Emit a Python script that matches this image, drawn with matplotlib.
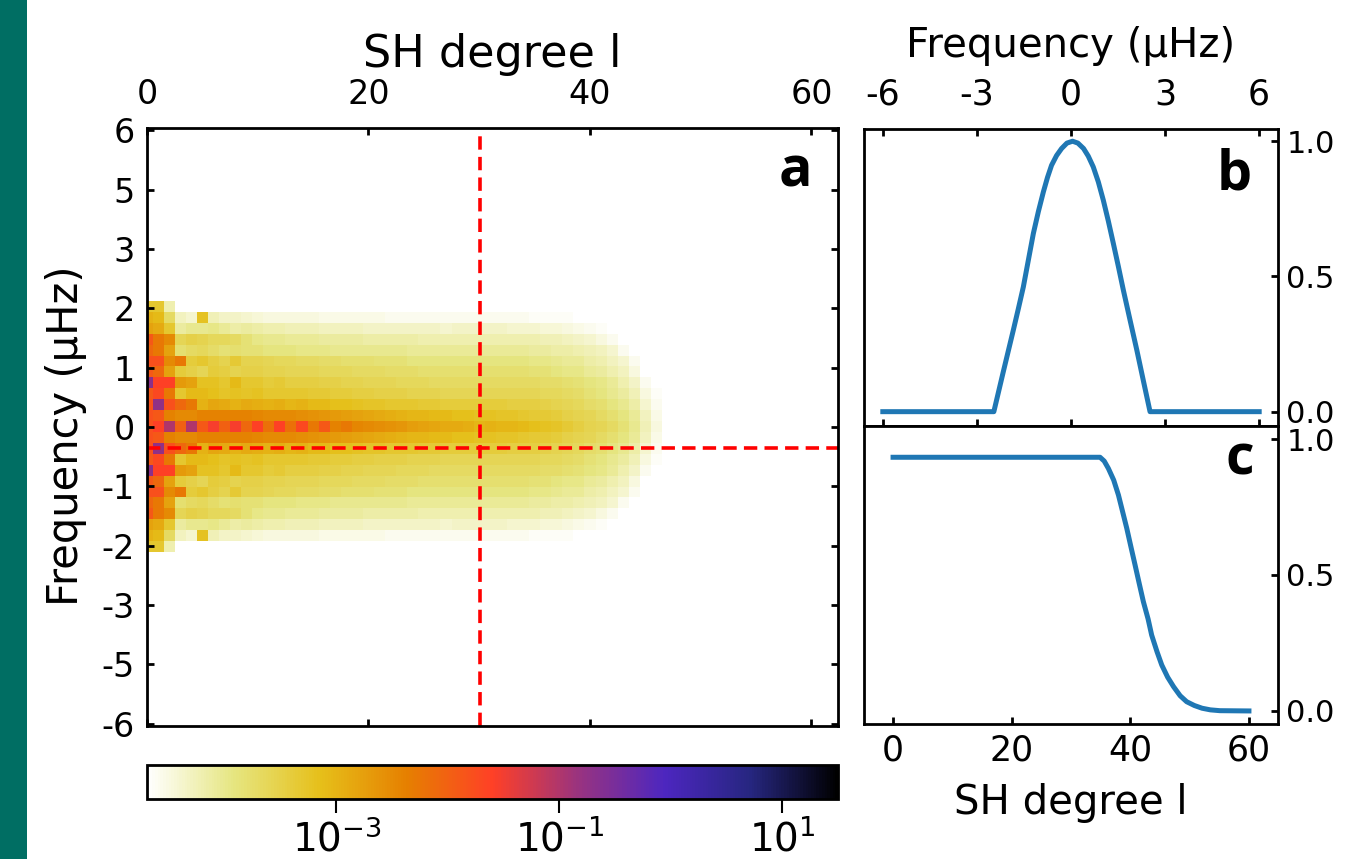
#!/usr/bin/python
# coding: utf8

import numpy as np
import matplotlib
matplotlib.use("Agg")
import matplotlib.pyplot as plt
from matplotlib.colors import LogNorm
from matplotlib.patches import Rectangle

N = np.nan

# log10 power, one list per frequency bin, SH degree 0..46
# the map is mirrored around 0 uHz so only the upper half is listed
row_k0 = [-1.8, -1.6, -1.0, -2.0, -1.0, -1.9, -1.55, -2.0, -1.55, -2.1,
          -1.6, -2.2, -1.6, -2.2, -1.7, -2.3, -1.9, -2.4, -2.3, -2.45,
          -2.5, -2.55, -2.6, -2.65, -2.75, -2.8, -2.85, -2.9, -2.9, -2.95,
          -3.05, -3.0, -3.05, -3.05, -3.1, -3.15, -3.2, -3.25, -3.35, -3.45,
          -3.55, -3.6, -3.7, -3.85, -4.0, -4.25, -4.5]
row_k1 = [-1.8, -1.9, -2.4, -2.5, -2.5, -2.4, -2.4, -2.4, -2.4, -2.4,
          -2.45, -2.5, -2.5, -2.5, -2.55, -2.6, -2.65, -2.7, -2.75, -2.8,
          -2.85, -2.9, -2.95, -3.0, -3.05, -3.05, -3.1, -3.1, -3.15, -3.15,
          -3.2, -3.2, -3.25, -3.25, -3.3, -3.35, -3.35, -3.4, -3.5, -3.55,
          -3.6, -3.7, -3.8, -3.9, -4.05, -4.3, -4.55]
row_k2 = [-1.8, -0.75, -1.8, -2.1, -2.3, -3.0, -2.85, -2.9, -3.0, -2.9,
          -2.95, -3.0, -2.95, -3.05, -3.0, -3.1, -3.1, -3.15, -3.15, -3.2,
          -3.25, -3.25, -3.3, -3.3, -3.3, -3.35, -3.35, -3.4, -3.4, -3.4,
          -3.4, -3.4, -3.4, -3.45, -3.45, -3.45, -3.5, -3.55, -3.6, -3.65,
          -3.75, -3.8, -3.9, -4.0, -4.15, -4.4, -4.6]
row_k3 = [-1.9, -1.7, -2.3, -3.3, -3.1, -3.1, -3.15, -3.25, -3.2, -3.25,
          -3.2, -3.3, -3.3, -3.3, -3.3, -3.35, -3.35, -3.4, -3.4, -3.45,
          -3.45, -3.5, -3.5, -3.5, -3.55, -3.55, -3.55, -3.6, -3.6, -3.6,
          -3.6, -3.6, -3.6, -3.6, -3.6, -3.6, -3.65, -3.65, -3.7, -3.75,
          -3.85, -3.9, -4.0, -4.1, -4.25, -4.5, -4.65]
row_k4 = [-0.7, -1.6, -1.6, -2.7, -2.8, -3.2, -3.2, -3.3, -3.1, -3.3,
          -3.3, -3.4, -3.35, -3.45, -3.45, -3.45, -3.5, -3.5, -3.55, -3.55,
          -3.6, -3.6, -3.6, -3.65, -3.65, -3.65, -3.7, -3.7, -3.7, -3.7,
          -3.7, -3.7, -3.7, -3.7, -3.7, -3.7, -3.75, -3.75, -3.8, -3.85,
          -3.9, -3.95, -4.05, -4.2, -4.35, -4.6, N]
row_k5 = [-1.9, -2.1, -2.8, -3.4, -3.5, -3.6, -3.4, -3.45, -3.55, -3.5,
          -3.5, -3.55, -3.55, -3.6, -3.6, -3.6, -3.65, -3.65, -3.65, -3.7,
          -3.7, -3.7, -3.75, -3.75, -3.75, -3.8, -3.8, -3.8, -3.8, -3.8,
          -3.8, -3.8, -3.8, -3.8, -3.8, -3.85, -3.85, -3.9, -3.95, -3.95,
          -4.05, -4.1, -4.2, -4.3, -4.5, N, N]
row_k6 = [-1.8, -1.8, -2.5, -2.3, -3.4, -3.3, -3.45, -3.55, -3.35, -3.55,
          -3.55, -3.6, -3.65, -3.65, -3.7, -3.7, -3.75, -3.75, -3.8, -3.8,
          -3.8, -3.85, -3.85, -3.85, -3.9, -3.9, -3.9, -3.9, -3.9, -3.9,
          -3.9, -3.9, -3.9, -3.9, -3.9, -3.95, -3.95, -4.0, -4.05, -4.05,
          -4.15, -4.2, -4.3, -4.4, -4.6, N, N]
row_k7 = [-2.1, -2.3, -2.8, -3.8, -3.7, -3.65, -3.75, -3.85, -3.8, -3.85,
          -3.85, -3.9, -3.9, -3.9, -3.95, -3.95, -3.95, -4.0, -4.0, -4.0,
          -4.0, -4.0, -4.0, -4.0, -4.05, -4.05, -4.05, -4.05, -4.05, -4.05,
          -4.05, -4.05, -4.05, -4.05, -4.05, -4.1, -4.1, -4.15, -4.15, -4.2,
          -4.25, -4.3, -4.4, -4.6, N, N, N]
row_k8 = [-1.9, -2.3, -2.5, -3.6, -3.5, -3.55, -3.65, -3.65, -3.7, -3.85,
          -3.95, -4.0, -4.0, -4.05, -4.05, -4.05, -4.1, -4.1, -4.1, -4.1,
          -4.15, -4.15, -4.15, -4.15, -4.15, -4.2, -4.2, -4.2, -4.2, -4.2,
          -4.2, -4.2, -4.2, -4.2, -4.2, -4.2, -4.25, -4.25, -4.3, -4.35,
          -4.4, -4.5, -4.6, N, N, N, N]
row_k9 = [-2.8, -2.9, -3.3, -4.1, -4.0, -4.0, -3.95, -4.05, -4.15, -4.1,
          -4.15, -4.2, -4.2, -4.25, -4.25, -4.25, -4.3, -4.3, -4.3, -4.3,
          -4.35, -4.35, -4.35, -4.35, -4.35, -4.35, -4.35, -4.4, -4.35, -4.35,
          -4.35, -4.35, -4.35, -4.4, -4.4, -4.4, -4.45, -4.45, -4.5, -4.55,
          -4.6, -4.65, N, N, N, N, N]
row_k10 = [-3.0, -3.1, -3.7, -4.3, -4.4, -3.2, -4.25, -4.35, -4.35, -4.4,
           -4.45, -4.5, -4.5, -4.5, -4.5, -4.5, -4.55, -4.55, -4.55, -4.55,
           -4.55, -4.55, -4.6, -4.6, -4.6, -4.6, -4.6, -4.6, -4.6, -4.6,
           -4.6, -4.6, -4.6, -4.6, -4.6, -4.65, -4.65, -4.65, -4.65, -4.68,
           N, N, N, N, N, N, N]
row_k11 = [-3.3, -3.3, -4.2] + [N] * 44

freq_step = 0.2134  # uHz per bin
cut_degree = 30.1
cut_freq = -0.42

a_xticks = [0, 20, 40, 60]
a_yticks = [-5.815, -4.652, -3.489, -2.326, -1.163, 0, 1.163, 2.326, 3.489, 4.652, 5.815]
a_ylabels = ["-6", "-5", "-3", "-2", "-1", "0", "1", "2", "3", "5", "6"]
cbar_ticks = [1e-3, 1e-1, 1e1]

# panel b: frequency window
b_freq = [-6, -2.46, -2.16, -1.84, -1.68, -1.52, -1.36, -1.20, -1.04, -0.88,
          -0.75, -0.62, -0.46, -0.30, -0.13, 0.05, 0.22, 0.40, 0.55, 0.71,
          0.87, 1.03, 1.19, 1.35, 1.51, 1.67, 1.88, 2.10, 2.31, 2.52, 6]
b_val = [0, 0, 0.147, 0.301, 0.380, 0.461, 0.560, 0.659, 0.740, 0.813,
         0.866, 0.911, 0.947, 0.973, 0.993, 1.0, 0.993, 0.973, 0.945, 0.905,
         0.850, 0.782, 0.705, 0.622, 0.537, 0.449, 0.340, 0.227, 0.113, 0, 0]
b_xticks = [-6, -3, 0, 3, 6]

# panel c: SH degree window
c_degree = [0, 34.9, 35.6, 36.3, 37.2, 38.0, 38.7, 39.4, 40.1, 40.8, 41.5, 42.2, 43.0,
            43.6, 44.5, 45.3, 46.3, 47.3, 48.4, 49.5, 50.8, 52.1, 53.5, 55.1, 60]
c_val = [0.933, 0.933, 0.919, 0.892, 0.849, 0.794, 0.733, 0.672, 0.604, 0.537, 0.469, 0.402, 0.338,
         0.279, 0.218, 0.169, 0.124, 0.089, 0.056, 0.034, 0.020, 0.010, 0.004, 0.001, 0]
c_xticks = [0, 20, 40, 60]
side_yticks = [0, 0.5, 1]
side_ylabels = ["0.0", "0.5", "1.0"]

W, H = 1352, 859
matplotlib.rcParams["font.family"] = "DejaVu Sans"
matplotlib.rcParams["axes.linewidth"] = 2


def px_axes(left, top, right, bottom):
    return fig.add_axes([left / W, 1 - bottom / H, (right - left) / W, (bottom - top) / H])


fig = plt.figure(figsize=(W / 100, H / 100), dpi=100)
fig.add_artist(Rectangle((0, 0), 27 / W, 1, transform=fig.transFigure,
                         facecolor="#006e63", edgecolor="none"))

rows = [row_k0, row_k1, row_k2, row_k3, row_k4, row_k5, row_k6, row_k7, row_k8, row_k9, row_k10, row_k11]
power = 10.0 ** np.array(rows[::-1] + rows[1:])

# panel a
ax1 = px_axes(147, 128, 838, 726)
im = ax1.imshow(power, origin="lower", aspect="auto", cmap="CMRmap_r",
                norm=LogNorm(vmin=2e-5, vmax=31.6), interpolation="nearest",
                extent=[-0.5, 46.5, -11.5 * freq_step, 11.5 * freq_step])
ax1.set_xlim(0, 62.4)
ax1.set_ylim(-5.86, 5.86)
ax1.axvline(cut_degree, color="red", lw=2.6, dashes=(3.7, 2.0))
ax1.axhline(cut_freq, color="red", lw=2.6, dashes=(3.7, 2.0))
ax1.set_xticks(a_xticks)
ax1.set_yticks(a_yticks)
ax1.set_yticklabels(a_ylabels)
ax1.xaxis.set_label_position("top")
ax1.set_xlabel("SH degree l", size=32, labelpad=8)
ax1.set_ylabel("Frequency (µHz)", size=30, labelpad=10, y=0.485)
ax1.tick_params(axis="both", which="major", direction="in", length=5, width=2,
                labelsize=24, top=True, bottom=True, left=True, right=True,
                labeltop=True, labelbottom=False)
ax1.tick_params(axis="x", pad=12)
ax1.tick_params(axis="y", pad=9)

# colorbar
cax = px_axes(147, 765, 838, 799)
cb = fig.colorbar(im, cax=cax, orientation="horizontal", ticks=cbar_ticks)
cb.ax.minorticks_off()
cb.ax.tick_params(labelsize=28, length=10, width=1.5, pad=5)
cb.outline.set_linewidth(2)

# panel b
ax2 = px_axes(864, 128.5, 1278, 426)
ax2.plot(b_freq, b_val, color="#1f77b4", lw=3.6)
ax2.set_xlim(-6.6, 6.6)
ax2.set_ylim(-0.053, 1.047)
ax2.set_xticks(b_xticks)
ax2.set_xticklabels(["-6", "-3", "0", "3", "6"])
ax2.set_yticks(side_yticks)
ax2.set_yticklabels(side_ylabels)
ax2.xaxis.set_label_position("top")
ax2.set_xlabel("Frequency (µHz)", size=29, labelpad=15)
ax2.tick_params(axis="x", direction="in", length=5, width=2, labelsize=25, pad=12,
                top=True, bottom=True, labeltop=True, labelbottom=False)
ax2.tick_params(axis="y", direction="in", length=5, width=2, labelsize=22, pad=6,
                left=False, right=True, labelleft=False, labelright=True)

# panel c
ax3 = px_axes(864, 426, 1278, 724)
ax3.plot(c_degree, c_val, color="#1f77b4", lw=3.6)
ax3.set_xlim(-4.9, 64.9)
ax3.set_ylim(-0.048, 1.048)
ax3.set_xticks(c_xticks)
ax3.set_yticks(side_yticks)
ax3.set_yticklabels(side_ylabels)
ax3.set_xlabel("SH degree l", size=29, labelpad=11)
ax3.tick_params(axis="x", direction="in", length=5, width=2, labelsize=25, pad=7,
                top=False, bottom=True)
ax3.tick_params(axis="y", direction="in", length=5, width=2, labelsize=22, pad=6,
                left=False, right=True, labelleft=False, labelright=True)

# panel letters
for letter, x, y in [("a", 795, 172), ("b", 1234, 175), ("c", 1240, 460)]:
    fig.text(x / W, 1 - y / H, letter, fontsize=40, fontweight="bold",
             family="Open Sans", ha="center", va="center")

plt.savefig("out.png", dpi=100)
